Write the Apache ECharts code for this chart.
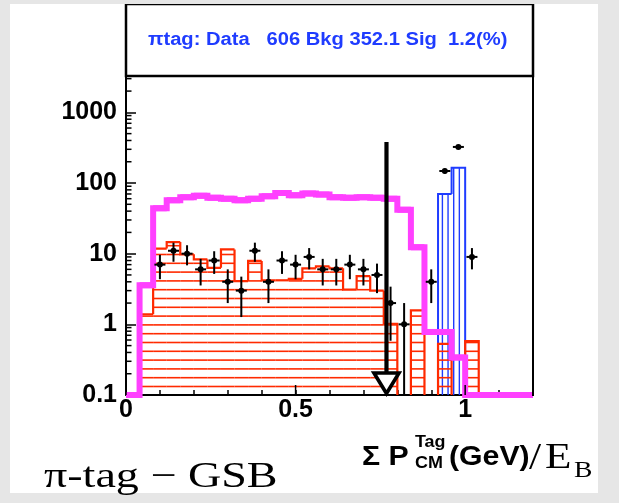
<!DOCTYPE html>
<html>
<head>
<meta charset="utf-8">
<script src="https://cdn.jsdelivr.net/npm/echarts@6/dist/echarts.min.js"></script>
<style>
html,body{margin:0;padding:0;}
#wrap{position:relative;width:619px;height:503px;background:#e6e6e6;overflow:hidden;}
#paper{position:absolute;left:10px;top:4px;width:588px;height:489px;background:#ffffff;}
#chart{position:absolute;left:0;top:0;width:619px;height:503px;}
</style>
</head>
<body>
<div id="wrap"><div id="paper"></div><div id="chart"></div></div>
<script>
// ---------- data ----------
const binLow = [0.00,0.04,0.08,0.12,0.16,0.20,0.24,0.28,0.32,0.36,0.40,0.44,0.48,0.52,0.56,0.60,0.64,0.68,0.72,0.76,0.80,0.84,0.88,0.92,0.96,1.00,1.04,1.08,1.12,1.16];
const binWidth = 0.04;
const bkgRed = [0,1.39,11.8,14.6,9.8,8.3,6.3,11.5,4.1,7.9,4.2,4.2,4.4,6.2,6.6,6.2,3.1,4.8,3.0,1.02,0,1.58,0,0.53,0,0.58,0,0,0,0];
const bkgBlue = [0,0,0,0,0,0,0,0,0,0,0,0,0,0,0,0,0,0,0,0,0,0,0,70,165,0,0,0,0,0];
const sigMagenta = [0,3.57,44,57,63,66,62,60,57,60,65,72,67,71,69,63,62,63,62,60,42,12.3,0.78,0.78,0.34,0,0,0,0,0];
const dataX = [0.10,0.14,0.18,0.22,0.26,0.30,0.34,0.38,0.42,0.46,0.50,0.54,0.58,0.62,0.66,0.70,0.74,0.78,0.82,0.90,0.94,0.98,1.02];
const dataY = [7,11,10,6,8,4,3,11,4,8,7,9,6,6,7,6,5,2,1,4,148,324,9];
const cutX = [0.768];
const cutTop = [380];
const xMajorTicks = [0, 0.5, 1.0];
const xTickLabels = ['0', '0.5', '1'];
const yTickLabels = ['0.1', '1', '10', '100', '1000'];
const yMinorTicks = [0.2,0.3,0.4,0.5,0.6,0.7,0.8,0.9,2,3,4,5,6,7,8,9,20,30,40,50,60,70,80,90,200,300,400,500,600,700,800,900,2000,3000];
const legendText = 'πtag: Data   606 Bkg 352.1 Sig  1.2(%)';
const X_MIN = 0, X_MAX = 1.2, Y_MIN = 0.1, Y_MAX = 3270;

// ---------- style ----------
const RED = '#ff2a00', BLUE = '#1f3cff', MAG = '#ff40ff';
const SANS = 'Liberation Sans';

const chart = echarts.init(document.getElementById('chart'), null, {renderer: 'canvas'});

function redItem(params, api) {
  const i = params.dataIndex;
  const v = bkgRed[i];
  if (!(v > 0)) return null;
  const x0 = binLow[i], x1 = x0 + binWidth;
  const pB = api.coord([x0, Y_MIN]);
  const yB = pB[1], px0 = pB[0];
  const yT = api.coord([x0, v])[1];
  const px1 = api.coord([x1, Y_MIN])[0];
  const ch = [];
  for (let y = yB - 8.5; y > yT + 1; y -= 8.8) {
    ch.push({type: 'line', shape: {x1: px0, y1: y, x2: px1, y2: y}, style: {stroke: RED, lineWidth: 1.6}});
  }
  const vPrev = i > 0 ? bkgRed[i - 1] : 0;
  const vNext = i < bkgRed.length - 1 ? bkgRed[i + 1] : 0;
  const yPrev = vPrev > 0 ? api.coord([x0, vPrev])[1] : yB;
  const pts = [[px0, yPrev], [px0, yT], [px1, yT]];
  if (!(vNext > 0)) pts.push([px1, yB]);
  ch.push({type: 'polyline', shape: {points: pts}, style: {stroke: RED, lineWidth: 2.2, fill: null}});
  return {type: 'group', children: ch};
}

function blueItem(params, api) {
  const i = params.dataIndex;
  const v = bkgBlue[i];
  if (!(v > 0)) return null;
  const x0 = binLow[i], x1 = x0 + binWidth;
  const pB = api.coord([x0, Y_MIN]);
  const yB = pB[1], px0 = pB[0];
  const yT = api.coord([x0, v])[1];
  const px1 = api.coord([x1, Y_MIN])[0];
  const gl = api.coord([X_MIN, Y_MIN])[0];
  const ch = [];
  const step = 5.65;
  let k = Math.ceil((px0 - gl) / step);
  for (let x = gl + k * step; x < px1 - 0.5; x += step) {
    if (x > px0 + 0.5) ch.push({type: 'line', shape: {x1: x, y1: yB, x2: x, y2: yT}, style: {stroke: BLUE, lineWidth: 1.4}});
  }
  const vPrev = i > 0 ? bkgBlue[i - 1] : 0;
  const vNext = i < bkgBlue.length - 1 ? bkgBlue[i + 1] : 0;
  const yPrev = vPrev > 0 ? api.coord([x0, vPrev])[1] : yB;
  const pts = [[px0, yPrev], [px0, yT], [px1, yT]];
  if (!(vNext > 0)) pts.push([px1, yB]);
  ch.push({type: 'polyline', shape: {points: pts}, style: {stroke: BLUE, lineWidth: 2, fill: null}});
  return {type: 'group', children: ch};
}

function magItem(params, api) {
  const i = params.dataIndex;
  const cl = v => Math.max(v, Y_MIN);
  const x0 = binLow[i], x1 = x0 + binWidth;
  const p0 = api.coord([x0, cl(sigMagenta[i])]);
  const px1 = api.coord([x1, Y_MIN])[0];
  const pts = [];
  if (i > 0) {
    const pp = api.coord([binLow[i - 1], cl(sigMagenta[i - 1])]);
    pts.push([pp[0], pp[1]]);
    pts.push([p0[0], pp[1]]);
  }
  pts.push([p0[0], p0[1]]);
  pts.push([px1, p0[1]]);
  return {type: 'polyline', shape: {points: pts}, style: {stroke: MAG, lineWidth: 6, fill: null, lineJoin: 'miter', lineCap: 'butt'}};
}

function dataItem(params, api) {
  const x = api.value(0), y = api.value(1);
  const e = Math.sqrt(y);
  const c = api.coord([x, y]);
  const top = api.coord([x, y + e])[1];
  const bot = api.coord([x, Math.max(y - e, Y_MIN)])[1];
  return {type: 'group', children: [
    {type: 'line', shape: {x1: c[0], y1: top, x2: c[0], y2: bot}, style: {stroke: '#000', lineWidth: 2}},
    {type: 'line', shape: {x1: c[0] - 5.5, y1: c[1], x2: c[0] + 5.5, y2: c[1]}, style: {stroke: '#000', lineWidth: 2}},
    {type: 'circle', shape: {cx: c[0], cy: c[1], r: 3}, style: {fill: '#000'}}
  ]};
}

function cutItem(params, api) {
  const x = api.value(0), t = api.value(1);
  const pT = api.coord([x, t]);
  const yB = api.coord([x, Y_MIN])[1];
  const px = pT[0];
  return {type: 'group', children: [
    {type: 'line', shape: {x1: px, y1: pT[1], x2: px, y2: yB - 12}, style: {stroke: '#000', lineWidth: 4.2}},
    {type: 'polygon', shape: {points: [[px - 12.5, yB - 22], [px + 12.5, yB - 22], [px, yB - 1.5]]}, style: {fill: '#fff', stroke: '#000', lineWidth: 3.6, lineJoin: 'miter'}}
  ]};
}

function yMinorItem(params, api) {
  const c = api.coord([X_MIN, api.value(1)]);
  return {type: 'line', shape: {x1: c[0], y1: c[1], x2: c[0] + 5.5, y2: c[1]}, style: {stroke: '#000', lineWidth: 1.5}};
}
function xMajorItem(params, api) {
  const c = api.coord([api.value(0), Y_MIN]);
  return {type: 'line', shape: {x1: c[0], y1: c[1], x2: c[0], y2: c[1] - 10}, style: {stroke: '#000', lineWidth: 1.5}};
}

const option = {
  animation: false,
  grid: {left: 126, right: 86, top: 76, bottom: 108, containLabel: false},
  xAxis: {
    type: 'value', min: X_MIN, max: X_MAX, interval: 0.1,
    axisLine: {show: true, onZero: false, lineStyle: {color: '#000', width: 2}},
    axisTick: {show: true, inside: true, length: 5, lineStyle: {color: '#000', width: 1.5}},
    splitLine: {show: false},
    axisLabel: {
      margin: 3, color: '#000', fontFamily: SANS, fontWeight: 'bold', fontSize: 25,
      showMinLabel: true, showMaxLabel: true, hideOverlap: false,
      formatter: function (v) {
        const k = xMajorTicks.findIndex(t => Math.abs(t - v) < 1e-6);
        return k >= 0 ? xTickLabels[k] : '';
      }
    }
  },
  yAxis: {
    type: 'log', logBase: 10, min: Y_MIN, max: Y_MAX,
    axisLine: {show: true, onZero: false, lineStyle: {color: '#000', width: 2}},
    axisTick: {show: true, inside: true, length: 10, lineStyle: {color: '#000', width: 1.5}},
    splitLine: {show: false},
    minorTick: {show: false},
    axisLabel: {
      margin: 9, color: '#000', fontFamily: SANS, fontWeight: 'bold', fontSize: 25,
      showMinLabel: true, showMaxLabel: true, hideOverlap: false,
      formatter: function (v) {
        const l = Math.log10(v);
        const r = Math.round(l);
        if (Math.abs(l - r) > 1e-6) return '';
        const k = r + 1;
        return (k >= 0 && k < yTickLabels.length) ? yTickLabels[k] : '';
      }
    }
  },
  series: [
    {type: 'custom', name: 'bkgBlue', data: binLow.map((x, i) => [x, bkgBlue[i]]), renderItem: blueItem, clip: true, silent: true, z: 2},
    {type: 'custom', name: 'bkgRed', data: binLow.map((x, i) => [x, bkgRed[i]]), renderItem: redItem, clip: true, silent: true, z: 3},
    {type: 'custom', name: 'signal', data: binLow.map((x, i) => [x, sigMagenta[i]]), renderItem: magItem, clip: false, silent: true, z: 4},
    {type: 'custom', name: 'data', data: dataX.map((x, i) => [x, dataY[i]]), renderItem: dataItem, clip: true, silent: true, z: 5},
    {type: 'custom', name: 'cut', data: cutX.map((x, i) => [x, cutTop[i]]), renderItem: cutItem, clip: false, silent: true, z: 6},
    {type: 'custom', name: 'yMinor', data: yMinorTicks.map(v => [X_MIN, v]), renderItem: yMinorItem, clip: false, silent: true, z: 7},
    {type: 'custom', name: 'xMajor', data: xMajorTicks.map(v => [v, Y_MIN]), renderItem: xMajorItem, clip: false, silent: true, z: 7}
  ],
  graphic: [
    {type: 'rect', shape: {x: 126, y: 4, width: 407, height: 72}, style: {fill: null, stroke: '#000', lineWidth: 2.5}, z: 10},
    {type: 'rect', shape: {x: 118, y: -6, width: 425, height: 10}, style: {fill: '#e6e6e6'}, z: 11},
    {type: 'line', shape: {x1: 533, y1: 76, x2: 533, y2: 396}, style: {stroke: '#000', lineWidth: 2}, z: 10},
    {type: 'text', x: 148, y: 40, scaleX: 1.12, style: {text: legendText, fill: BLUE, font: 'bold 18px "Liberation Sans"', textAlign: 'left', textVerticalAlign: 'middle'}, z: 10},
    {type: 'text', x: 362, y: 458, scaleX: 1.12, style: {text: 'Σ P', fill: '#000', font: 'bold 27px "Liberation Sans"', textAlign: 'left', textVerticalAlign: 'middle'}, z: 10},
    {type: 'text', x: 415, y: 443, scaleX: 1.12, style: {text: 'Tag', fill: '#000', font: 'bold 16px "Liberation Sans"', textAlign: 'left', textVerticalAlign: 'middle'}, z: 10},
    {type: 'text', x: 415, y: 464, scaleX: 1.12, style: {text: 'CM', fill: '#000', font: 'bold 16px "Liberation Sans"', textAlign: 'left', textVerticalAlign: 'middle'}, z: 10},
    {type: 'text', x: 449, y: 458, scaleX: 1.12, style: {text: '(GeV)', fill: '#000', font: 'bold 27px "Liberation Sans"', textAlign: 'left', textVerticalAlign: 'middle'}, z: 10},
    {type: 'text', x: 529, y: 459, scaleX: 1.15, style: {text: '/', fill: '#000', font: '38px "Liberation Serif"', textAlign: 'left', textVerticalAlign: 'middle'}, z: 10},
    {type: 'text', x: 545, y: 459, scaleX: 1.2, style: {text: 'E', fill: '#000', font: '36px "Liberation Serif"', textAlign: 'left', textVerticalAlign: 'middle'}, z: 10},
    {type: 'text', x: 574, y: 471, scaleX: 1.15, style: {text: 'B', fill: '#000', font: '24px "Liberation Serif"', textAlign: 'left', textVerticalAlign: 'middle'}, z: 10},
    {type: 'text', x: 44, y: 478, scaleX: 1.28, style: {text: 'π-tag − GSB', fill: '#000', font: '36px "Liberation Serif"', textAlign: 'left', textVerticalAlign: 'middle'}, z: 10}
  ]
};
chart.setOption(option);
</script>
</body>
</html>
